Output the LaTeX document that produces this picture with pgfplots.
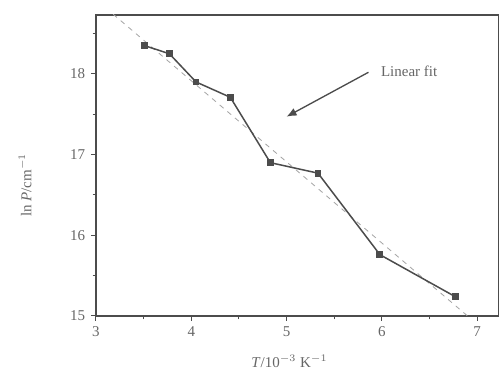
\documentclass[border=0pt]{standalone}
\usepackage{fontspec}
\setmainfont{Liberation Serif}
\usepackage{pgfplots}
\pgfplotsset{compat=1.18}
\usetikzlibrary{arrows.meta}
\definecolor{ink}{gray}{0.3}
\definecolor{txt}{gray}{0.4}
\begin{document}
\begin{tikzpicture}
\useasboundingbox (-57.6pt,-37.2pt) rectangle (241.8pt,189.6pt);
\begin{axis}[
  at={(0,0)}, anchor=origin,
  scale only axis, width=241.8pt, height=180.6pt,
  xmin=3, xmax=7.23, ymin=15, ymax=18.73,
  xtick={3,4,5,6,7}, ytick={15,16,17,18},
  minor xtick={3.5,4.5,5.5,6.5}, minor ytick={15.5,16.5,17.5,18.5},
  tick align=outside, xtick pos=bottom, ytick pos=left,
  major tick length=3pt, minor tick length=2pt,
  axis line style={ink, line width=0.9pt},
  every tick/.style={ink, line width=0.6pt},
  tick label style={txt, font=\small},
  /pgf/number format/assume math mode=true,
  xlabel={\textit{T}/10$^{-3}$ K$^{-1}$},
  ylabel={ln \textit{P}/cm$^{-1}$},
  label style={txt, font=\small},
  xlabel style={at={(axis description cs:0.48,-0.15)}, anchor=center},
  ylabel style={at={(axis description cs:-0.176,0.435)}, anchor=center},
  clip=true,
]
\addplot[gray!70, dashed, line width=0.5pt] coordinates {(3.10,18.82) (6.95,14.95)};
\addplot[ink, line width=0.9pt, mark=square*, mark size=1.6pt, mark options={solid, fill=ink}] coordinates {
(3.51,18.35) (3.77,18.25) (4.05,17.90) (4.41,17.71) (4.83,16.90) (5.33,16.77) (5.98,15.76) (6.77,15.24)};
\draw[-{Latex[length=6pt,width=5pt]}, ink, line width=0.8pt] (axis cs:5.86,18.02) -- (axis cs:5.0,17.47);
\node[anchor=west, txt, font=\small] at (axis cs:5.93,18.03) {Linear fit};
\end{axis}
\end{tikzpicture}
\end{document}
